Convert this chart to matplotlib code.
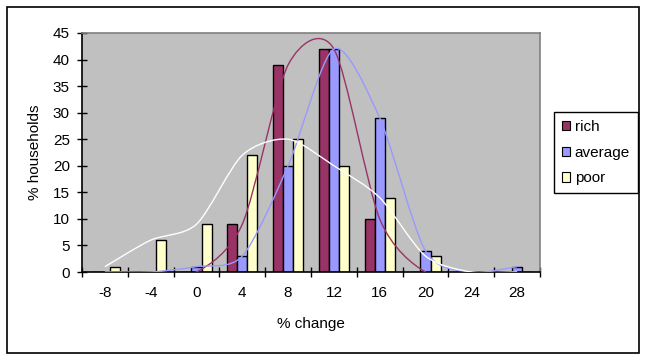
import matplotlib
matplotlib.use("Agg")
import matplotlib.pyplot as plt
import numpy as np
from matplotlib.path import Path
from matplotlib.patches import PathPatch, Patch, Rectangle

plt.rcParams['font.family'] = ['Liberation Sans', 'DejaVu Sans']

categories = ['-8', '-4', '0', '4', '8', '12', '16', '20', '24', '28']
rich = [0, 0, 0, 9, 39, 42, 10, 0, 0, 0]
average = [0, 0, 1, 3, 20, 42, 29, 4, 0, 1]
poor = [1, 6, 9, 22, 25, 20, 14, 3, 0, 0]

series = [('rich', rich, '#993366', '#993366'),
          ('average', average, '#9999FF', '#9999FF'),
          ('poor', poor, '#FFFFCC', '#FFFFFF')]

FS = 11
W, H = 647, 360
fig = plt.figure(figsize=(W / 100, H / 100), dpi=100)
fig.patches.append(Rectangle((6.5 / W, 1 - 352.5 / H), (639 - 6.5) / W, (352.5 - 6.5) / H,
                             transform=fig.transFigure, fill=False, edgecolor='black',
                             linewidth=1.2, zorder=0))
ax = fig.add_axes([82 / W, 1 - 272 / H, (540 - 82) / W, (272 - 33) / H])
ax.set_facecolor('#C0C0C0')

x = np.arange(len(categories))
bw = 0.22
for i, (name, vals, fc, lc) in enumerate(series):
    ax.bar(x + (i - 1) * bw, vals, width=bw, color=fc, edgecolor='black',
           linewidth=1.0, zorder=2, label=name)


def smooth_path(xs, ys, k=1 / 6):
    pts = np.column_stack([xs, ys]).astype(float)
    n = len(pts)
    verts = [pts[0]]
    codes = [Path.MOVETO]
    for j in range(n - 1):
        p0 = pts[j - 1] if j > 0 else pts[j]
        p1 = pts[j]
        p2 = pts[j + 1]
        p3 = pts[j + 2] if j + 2 < n else pts[j + 1]
        c1 = p1 + (p2 - p0) * k
        c2 = p2 - (p3 - p1) * k
        verts += [c1, c2, p2]
        codes += [Path.CURVE4] * 3
    return Path(verts, codes)


for name, vals, fc, lc in series:
    p = smooth_path(x, vals, k=0.135)
    ax.add_patch(PathPatch(p, fill=False, edgecolor=lc, linewidth=1.0, zorder=3))

ax.set_xlim(-0.5, len(categories) - 0.5)
ax.set_ylim(0, 45)
ax.set_yticks(np.arange(0, 46, 5))
ax.set_xticks(x)
ax.set_xticklabels(categories)
ax.set_xticks(np.arange(-0.5, len(categories), 1), minor=True)
ax.tick_params(axis='x', which='major', length=0, pad=10, labelsize=FS)
ax.tick_params(axis='x', which='minor', direction='inout', length=7.5, width=1)
ax.tick_params(axis='y', direction='inout', length=7.5, width=1, pad=5, labelsize=FS)

for s in ['left', 'bottom']:
    ax.spines[s].set_color('black')
    ax.spines[s].set_linewidth(1.2)
for s in ['top', 'right']:
    ax.spines[s].set_color('#808080')
    ax.spines[s].set_linewidth(1.2)

ax.set_xlabel('% change', fontsize=FS, labelpad=12)
ax.set_ylabel('% households', fontsize=FS, labelpad=8)

handles = [Patch(facecolor=fc, edgecolor='black', linewidth=0.8, label=name)
           for name, vals, fc, lc in series]
leg = fig.legend(handles=handles, loc='upper left',
                 bbox_to_anchor=(554 / W, 1 - 112 / H), bbox_transform=fig.transFigure,
                 borderaxespad=0, fancybox=False, edgecolor='black', framealpha=1,
                 fontsize=FS, handlelength=0.55, handleheight=0.55, handletextpad=0.3,
                 labelspacing=0.78, borderpad=0.5)
leg.get_frame().set_linewidth(1.0)

fig.savefig('out.png', dpi=100)
